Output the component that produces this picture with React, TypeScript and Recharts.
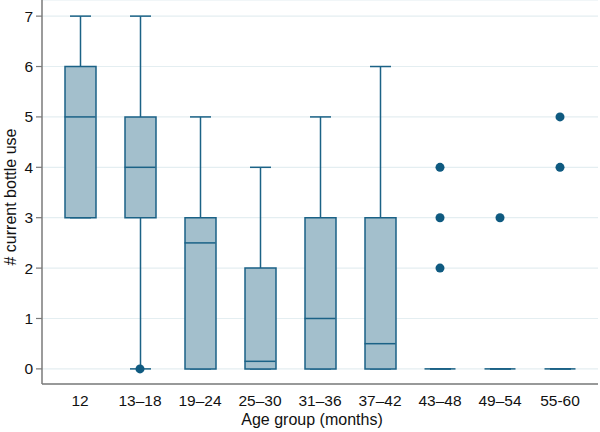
import { Bar, CartesianGrid, ComposedChart, Label, Scatter, XAxis, YAxis } from "recharts";

// age groups (months) and box-plot statistics for current bottle use
const groups = ["12", "13–18", "19–24", "25–30", "31–36", "37–42", "43–48", "49–54", "55-60"];
const lowerWhisker = [3, 0, 0, 0, 0, 0, 0, 0, 0];
const q1 = [3, 3, 0, 0, 0, 0, 0, 0, 0];
const median = [5, 4, 2.5, 0.15, 1, 0.5, 0, 0, 0];
const q3 = [6, 5, 3, 2, 3, 3, 0, 0, 0];
const upperWhisker = [7, 7, 5, 4, 5, 6, 0, 0, 0];

const outlierGroups = ["13–18", "43–48", "43–48", "43–48", "49–54", "55-60", "55-60"];
const outlierValues = [0, 2, 3, 4, 3, 4, 5];

const yTicks = [0, 1, 2, 3, 4, 5, 6, 7];

const data = groups.map((group, i) => ({
  group,
  whisker: [lowerWhisker[i], upperWhisker[i]],
  box: [q1[i], q3[i]],
  median: median[i],
}));

const outliers = outlierGroups.map((group, i) => ({ group, value: outlierValues[i] }));

const DARK = "#1b6286";
const FILL = "#a3bfcc";
const BOX_W = 31;

function Whisker(props: any) {
  const { x, y, width, height } = props;
  if (x == null || y == null) return null;
  const cx = x + width / 2;
  const cap = 10.5;
  return (
    <g stroke={DARK} strokeWidth={1.5}>
      <line x1={cx} x2={cx} y1={y} y2={y + height} />
      <line x1={cx - cap} x2={cx + cap} y1={y} y2={y} />
      <line x1={cx - cap} x2={cx + cap} y1={y + height} y2={y + height} />
    </g>
  );
}

function MedianLine(props: any) {
  const { cx, cy } = props;
  return <line x1={cx - BOX_W / 2} x2={cx + BOX_W / 2} y1={cy} y2={cy} stroke={DARK} strokeWidth={1.5} />;
}

function Dot(props: any) {
  const { cx, cy } = props;
  return <circle cx={cx} cy={cy} r={4.5} fill="#0f5a80" />;
}

export default function App() {
  return (
    <div style={{ position: "absolute", left: 0, top: 0, fontFamily: "'Liberation Sans', Arial, sans-serif" }}>
      <ComposedChart
        width={600}
        height={432}
        data={data}
        margin={{ top: 0, right: 2, left: 0, bottom: 0 }}
        barGap={-BOX_W}
        barSize={BOX_W}
      >
        <CartesianGrid horizontal vertical={false} stroke="#e4eef1" strokeWidth={1.2} />
        <XAxis
          dataKey="group"
          allowDuplicatedCategory={false}
          height={48}
          padding={{ left: 8, right: 8 }}
          tickLine={false}
          tickSize={6}
          tickMargin={5}
          axisLine={{ stroke: "#7a7a7a", strokeWidth: 1.5 }}
          tick={{ fill: "#111", fontSize: 15.5 }}
          interval={0}
        >
          <Label value="Age group (months)" position="insideBottom" offset={7} dx={-8} fill="#111" fontSize={16} />
        </XAxis>
        <YAxis
          type="number"
          domain={[-0.3, 7.32]}
          ticks={yTicks}
          width={42}
          tickSize={6}
          tickMargin={3}
          axisLine={{ stroke: "#7a7a7a", strokeWidth: 1.5 }}
          tickLine={{ stroke: "#7a7a7a", strokeWidth: 1.2 }}
          tick={{ fill: "#111", fontSize: 15.5 }}
        >
          <Label value="# current bottle use" angle={-90} position="center" dx={-11} dy={5} fill="#111" fontSize={16} />
        </YAxis>
        <Bar dataKey="whisker" shape={Whisker} isAnimationActive={false} />
        <Bar dataKey="box" fill={FILL} stroke={DARK} strokeWidth={1.5} isAnimationActive={false} />
        <Scatter dataKey="median" shape={MedianLine} isAnimationActive={false} />
        <Scatter data={outliers} dataKey="value" shape={Dot} isAnimationActive={false} />
      </ComposedChart>
    </div>
  );
}
